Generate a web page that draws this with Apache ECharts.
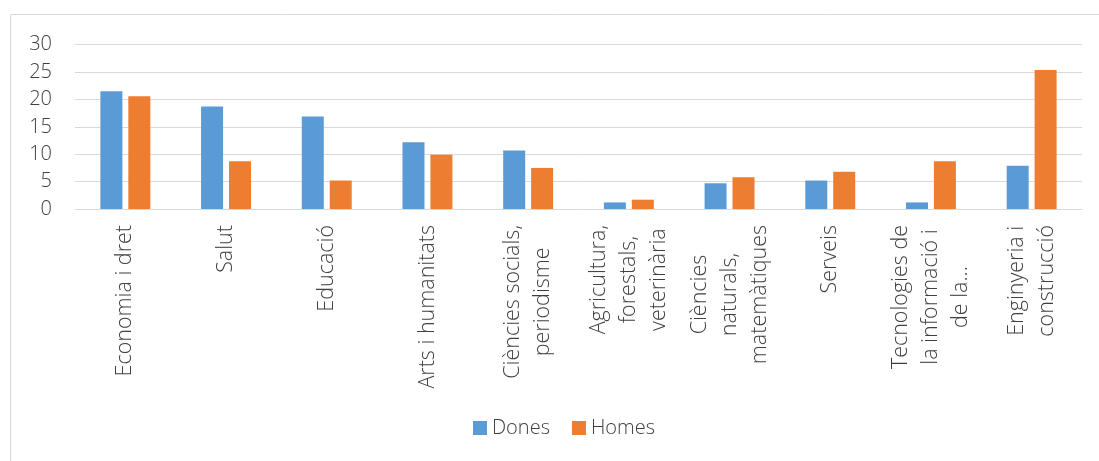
<!DOCTYPE html>
<html>
<head>
<meta charset="utf-8">
<script src="https://cdn.jsdelivr.net/npm/echarts@6/dist/echarts.min.js"></script>
<style>html,body{margin:0;padding:0;background:#fff}#c{width:1099px;height:461px}</style>
</head>
<body>
<div id="c"></div>
<script>
const categories = [
  "Economia i dret",
  "Salut",
  "Educació",
  "Arts i humanitats",
  "Ciències socials,\nperiodisme",
  "Agricultura,\nforestals,\nveterinària",
  "Ciències\nnaturals,\nmatemàtiques",
  "Serveis",
  "Tecnologies de\nla informació i\nde la...",
  "Enginyeria i\nconstrucció"
];
const dones = [21.5, 18.7, 16.9, 12.2, 10.7, 1.2, 4.7, 5.2, 1.2, 7.9];
const homes = [20.6, 8.7, 5.2, 9.9, 7.5, 1.7, 5.8, 6.8, 8.7, 25.4];
const seriesNames = ["Dones", "Homes"];
const yTicks = { min: 0, max: 30, interval: 5 };

const FONT = "'Open Sans', 'Noto Sans', sans-serif";
const FS = 20;
const XFS = 21.5;
const FW = 300;

// measure each label's lines so that shorter lines can be centred under the longest
const ctx = document.createElement('canvas').getContext('2d');
ctx.font = FW + ' ' + XFS + 'px ' + FONT;
const rich = { t: { fontFamily: FONT, fontSize: XFS, fontWeight: FW, color: '#404040', lineHeight: 30 } };
const labelTexts = categories.map((c, i) => {
  const lines = c.split('\n');
  const ws = lines.map(s => ctx.measureText(s).width);
  const maxW = Math.max.apply(null, ws);
  return lines.map((s, j) => {
    const pad = (maxW - ws[j]) / 2;
    if (pad < 0.5) return '{t|' + s + '}';
    const key = 's' + i + '_' + j;
    rich[key] = { width: pad, fontSize: XFS, lineHeight: 30 };
    return '{t|' + s + '}{' + key + '| }';
  }).join('\n');
});

const chart = echarts.init(document.getElementById('c'), null, { renderer: 'canvas' });
chart.setOption({
  animation: false,
  backgroundColor: '#fff',
  textStyle: { fontFamily: FONT },
  graphic: [{
    type: 'rect', silent: true, z: -10,
    shape: { x: 10.5, y: 14.5, width: 1200, height: 600 },
    style: { fill: 'none', stroke: '#d9d9d9', lineWidth: 1 }
  }],
  grid: { left: 75, right: 17, top: 44.7, bottom: 252, containLabel: false },
  legend: {
    data: seriesNames,
    left: 473, top: 418, padding: 0,
    icon: 'rect', itemWidth: 14, itemHeight: 14, itemGap: 22,
    textStyle: { fontFamily: FONT, fontSize: FS, fontWeight: FW, color: '#404040' }
  },
  xAxis: {
    type: 'category',
    data: categories,
    axisTick: { show: false },
    axisLine: { lineStyle: { color: '#d9d9d9', width: 1 } },
    axisLabel: {
      interval: 0, rotate: 90, margin: 16,
      formatter: function (v, i) { return labelTexts[i]; },
      rich: rich,
      fontFamily: FONT, fontSize: XFS, fontWeight: FW, color: '#404040', lineHeight: 30
    }
  },
  yAxis: {
    type: 'value', min: yTicks.min, max: yTicks.max, interval: yTicks.interval,
    axisLine: { show: false }, axisTick: { show: false },
    splitLine: { lineStyle: { color: '#d9d9d9', width: 1 } },
    axisLabel: { fontFamily: FONT, fontSize: FS, fontWeight: FW, color: '#404040', margin: 23 }
  },
  series: [
    { name: seriesNames[0], type: 'bar', data: dones, barWidth: 22, barGap: '27%',
      itemStyle: { color: '#5b9bd5' } },
    { name: seriesNames[1], type: 'bar', data: homes, barWidth: 22,
      itemStyle: { color: '#ed7d31' } }
  ]
});
</script>
</body>
</html>
